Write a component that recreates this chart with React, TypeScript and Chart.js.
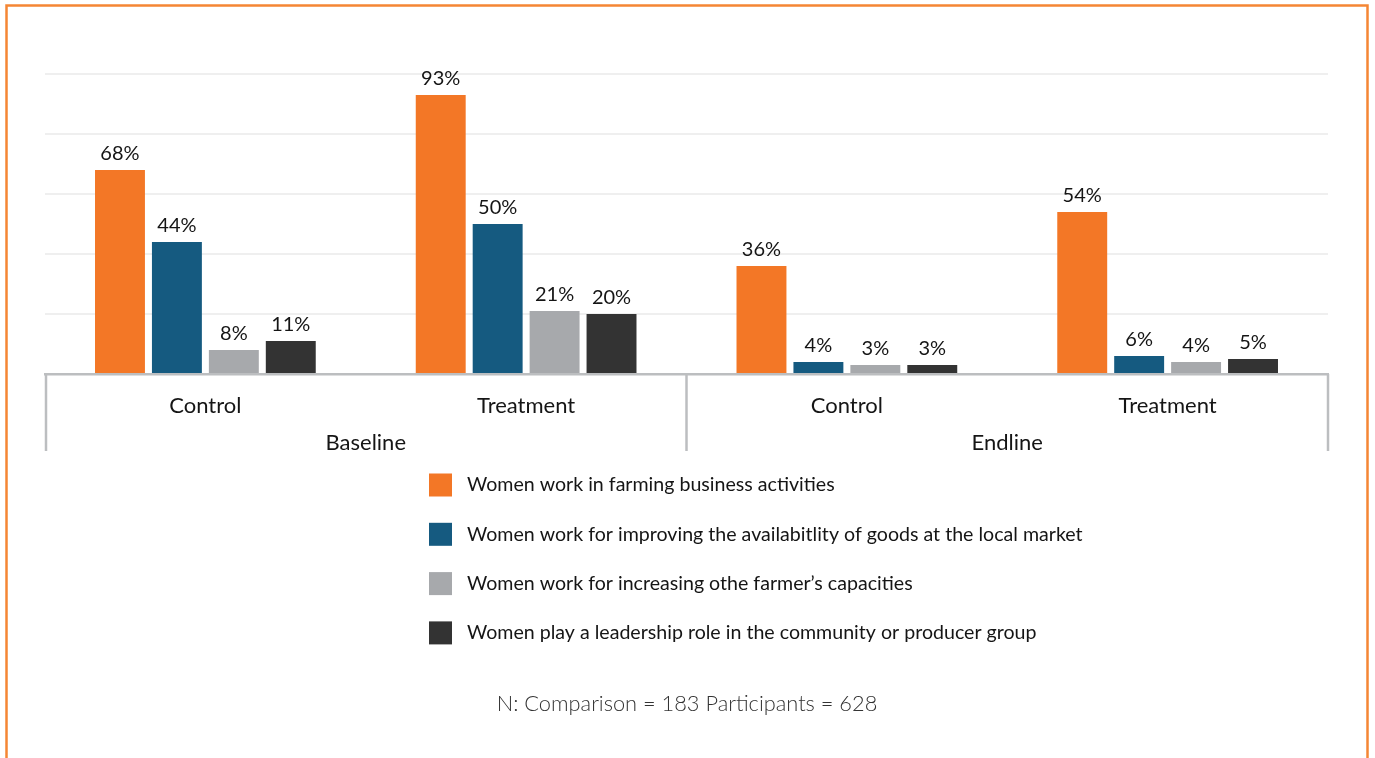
import React, { useEffect, useRef } from "react";
import { Chart, registerables } from "chart.js";

Chart.register(...registerables);

const categories = ["Control", "Treatment", "Control", "Treatment"];
const groups = ["Baseline", "Endline"];
const seriesLabels = [
  "Women work in farming business activities",
  "Women work for improving the availabitlity of goods at the local market",
  "Women work for increasing othe farmer\u2019s capacities",
  "Women play a leadership role in the community or producer group",
];
const farming = [68, 93, 36, 54];
const market = [44, 50, 4, 6];
const capacities = [8, 21, 3, 4];
const leadership = [11, 20, 3, 5];
const seriesColors = ["#F37726", "#155A80", "#A7A9AC", "#333333"];
const yMax = 100;
const yStep = 20;
const note = "N: Comparison = 183 Participants = 628";

const FONT = "Lato, 'Open Sans', sans-serif";
const TEXT = "#151515";

const overlay = {
  id: "overlay",
  beforeDraw(chart: any) {
    const ctx = chart.ctx;
    ctx.save();
    ctx.fillStyle = "#ffffff";
    ctx.fillRect(0, 0, chart.width, chart.height);
    ctx.strokeStyle = "#F58634";
    ctx.lineWidth = 2.5;
    ctx.strokeRect(6.5, 5.5, 1361, 820);
    ctx.restore();
  },
  afterDatasetsDraw(chart: any) {
    const ctx = chart.ctx;
    ctx.save();
    ctx.font = `20px ${FONT}`;
    ctx.fillStyle = TEXT;
    ctx.textAlign = "center";
    ctx.textBaseline = "alphabetic";
    chart.data.datasets.forEach((ds: any, di: number) => {
      const meta = chart.getDatasetMeta(di);
      meta.data.forEach((bar: any, i: number) => {
        ctx.fillText(ds.data[i] + "%", bar.x, bar.y - 10);
      });
    });
    ctx.restore();
  },
  afterDraw(chart: any) {
    const { ctx, chartArea, scales } = chart;
    const xs = scales.x;
    const bottom = chartArea.bottom;
    ctx.save();
    ctx.strokeStyle = "#BCBEC0";
    ctx.lineWidth = 2.5;
    const mid = (xs.getPixelForValue(1) + xs.getPixelForValue(2)) / 2;
    [chartArea.left + 1, mid, chartArea.right].forEach((x: number) => {
      ctx.beginPath();
      ctx.moveTo(x, bottom);
      ctx.lineTo(x, 451);
      ctx.stroke();
    });
    // group labels
    ctx.font = `22px ${FONT}`;
    ctx.fillStyle = TEXT;
    ctx.textAlign = "center";
    ctx.textBaseline = "middle";
    groups.forEach((g, gi) => {
      const cx = (xs.getPixelForValue(gi * 2) + xs.getPixelForValue(gi * 2 + 1)) / 2;
      ctx.fillText(g, cx, 443);
    });
    // legend
    ctx.textAlign = "left";
    ctx.font = `19.6px ${FONT}`;
    chart.data.datasets.forEach((ds: any, di: number) => {
      const cy = 485 + di * 49.3;
      ctx.fillStyle = ds.backgroundColor;
      ctx.fillRect(429, cy - 11.5, 23, 23);
      ctx.fillStyle = TEXT;
      ctx.fillText(ds.label, 467, cy);
    });
    // note
    ctx.font = `300 21.8px ${FONT}`;
    ctx.fillStyle = "#333333";
    ctx.textAlign = "center";
    ctx.fillText(note, 687, 704);
    ctx.restore();
  },
};

export default function App() {
  const ref = useRef<HTMLCanvasElement>(null);
  useEffect(() => {
    if (!ref.current) return;
    const values = [farming, market, capacities, leadership];
    const chart = new Chart(ref.current, {
      type: "bar",
      data: {
        labels: categories,
        datasets: values.map((d, i) => ({
          label: seriesLabels[i],
          data: d,
          backgroundColor: seriesColors[i],
          borderWidth: 0,
          barPercentage: 0.877,
          categoryPercentage: 0.71,
        })),
      },
      options: {
        responsive: false,
        animation: false,
        devicePixelRatio: 1,
        layout: { padding: { left: 45, right: 47, top: 74, bottom: 0 } },
        plugins: { legend: { display: false }, tooltip: { enabled: false } },
        scales: {
          x: {
            grid: { display: false, drawTicks: false },
            border: { display: true, color: "#BCBEC0", width: 2.5 },
            ticks: {
              color: TEXT,
              font: { family: FONT, size: 22 },
              padding: 19,
              autoSkip: false,
              maxRotation: 0,
            },
            afterFit: (s: any) => {
              s.height = 384;
            },
          },
          y: {
            min: 0,
            max: yMax,
            ticks: { display: false, stepSize: yStep },
            grid: { color: "#EFEFEF", lineWidth: 2, drawTicks: false },
            border: { display: false },
          },
        },
      },
      plugins: [overlay],
    });
    return () => chart.destroy();
  }, []);
  return (
    <div style={{ position: "fixed", left: 0, top: 0, width: 1375, height: 758, overflow: "hidden" }}>
      <canvas ref={ref} width={1375} height={758} style={{ display: "block" }} />
    </div>
  );
}
